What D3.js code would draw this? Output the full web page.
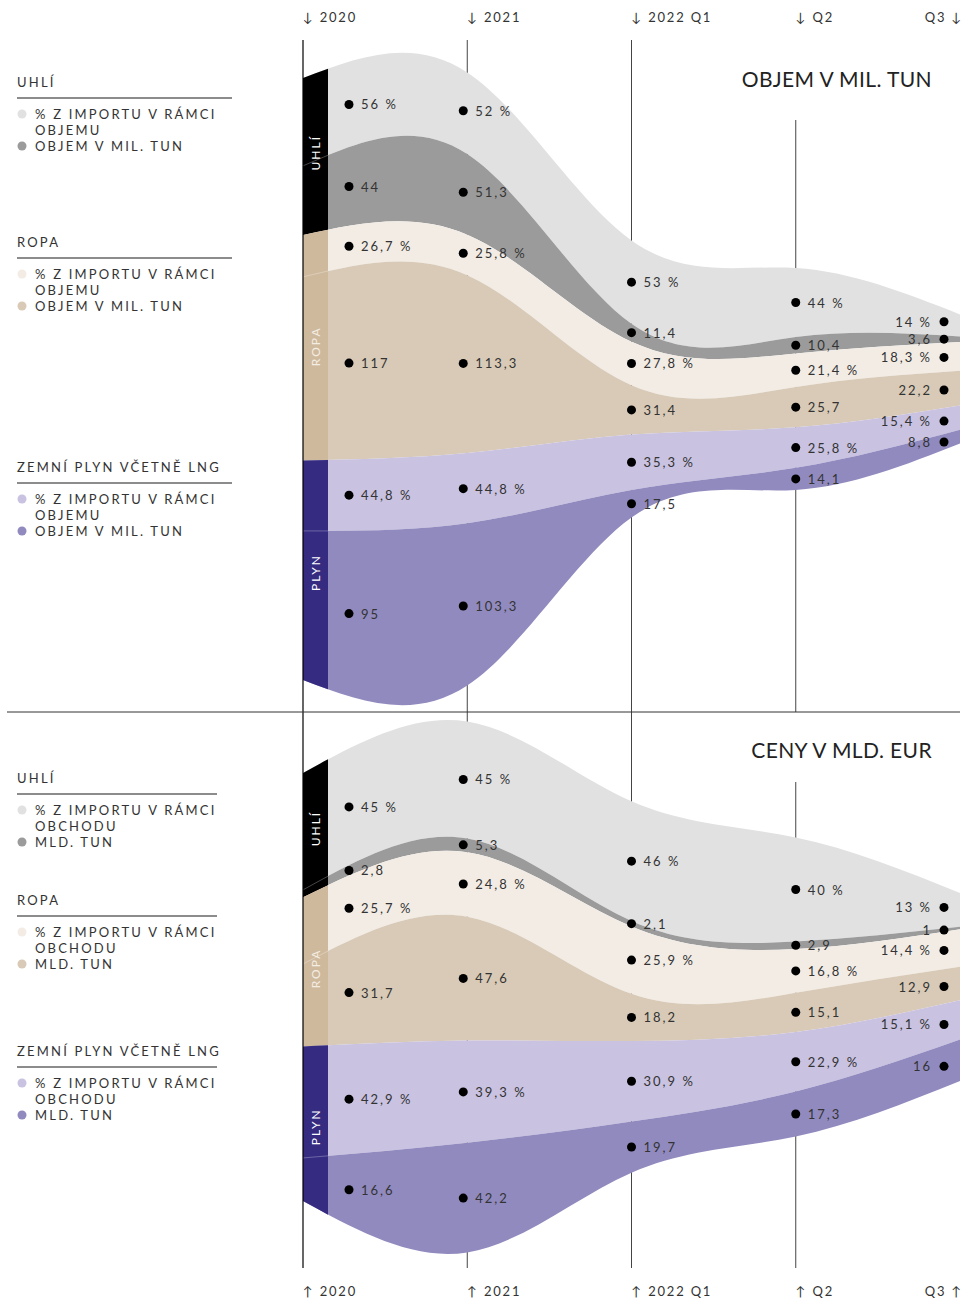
<!DOCTYPE html>
<html><head><meta charset="utf-8">
<script src="https://cdn.jsdelivr.net/npm/d3@7"></script>
<style>body{margin:0;background:#fff} svg{display:block}</style>
</head><body><svg id="c" width="965" height="1299"></svg>
<script>
// ---- data ----
const periods = ["2020","2021","2022 Q1","Q2","Q3"];
const layerKeys = ["coalPct","coalVol","oilPct","oilVol","gasPct","gasVol"];
const isPct = [true,false,true,false,true,false];
// Top chart: OBJEM V MIL. TUN
const volCoalPct = [56,52,53,44,14];
const volCoalVol = [44,51.3,11.4,10.4,3.6];
const volOilPct  = [26.7,25.8,27.8,21.4,18.3];
const volOilVol  = [117,113.3,31.4,25.7,22.2];
const volGasPct  = [44.8,44.8,35.3,25.8,15.4];
const volGasVol  = [95,103.3,17.5,14.1,8.8];
// Bottom chart: CENY V MLD. EUR
const priceCoalPct = [45,45,46,40,13];
const priceCoalVol = [2.8,5.3,2.1,2.9,1];
const priceOilPct  = [25.7,24.8,25.9,16.8,14.4];
const priceOilVol  = [31.7,47.6,18.2,15.1,12.9];
const priceGasPct  = [42.9,39.3,30.9,22.9,15.1];
const priceGasVol  = [16.6,42.2,19.7,17.3,16];
const bandNames = ["UHLÍ","ROPA","PLYN"];
const legendGroups = ["UHLÍ","ROPA","ZEMNÍ PLYN VČETNĚ LNG"];
const legendTopPct = ["% Z IMPORTU V RÁMCI","OBJEMU"];
const legendTopVol = ["OBJEM V MIL. TUN"];
const legendBotPct = ["% Z IMPORTU V RÁMCI","OBCHODU"];
const legendBotVol = ["MLD. TUN"];
const titles = ["OBJEM V MIL. TUN","CENY V MLD. EUR"];

// ---- styles ----
const layerColors = ["#e1e1e1","#9b9b9b","#f2ece5","#d8cab6","#c9c2e1","#918abf"];
const bandColors = ["#000000","#cfb99d","#352c82"];
const bandText = ["#ffffff","#f4ede3","#ffffff"];
const FONT = "Lato, 'Noto Sans', sans-serif";
const TXT = "#333";

const svg = d3.select("#c");
const X0 = 303, X1 = 960;
const x = d3.scalePoint().domain(periods).range([X0, X1]);

const charts = [
  {series:[volCoalPct,volCoalVol,volOilPct,volOilVol,volGasPct,volGasVol],
   title:titles[0], titleY:78, center:379, k:1.57, top:40, bottom:712, q2Top:120,
   legendY:[82,242,467], legendLine:232, pctText:legendTopPct, volText:legendTopVol},
  {series:[priceCoalPct,priceCoalVol,priceOilPct,priceOilVol,priceGasPct,priceGasVol],
   title:titles[1], titleY:749, center:987, k:2.6, top:712, bottom:1268, q2Top:782,
   legendY:[778,900,1051], legendLine:217, pctText:legendBotPct, volText:legendBotVol}
];

const defs = svg.append("defs");
const fmt = v => String(v).replace(".", ",");

function yAt(node, tx){
  let lo = 0, hi = node.getTotalLength(), p = null;
  for (let it=0; it<40; it++){
    const mid = (lo+hi)/2; p = node.getPointAtLength(mid);
    if (p.x < tx) lo = mid; else hi = mid;
  }
  return p.y;
}

// column lines (behind)
const linesG = svg.append("g");
charts.forEach(c=>{
  periods.slice(1,4).forEach(p=>{
    linesG.append("line").attr("x1",x(p)).attr("x2",x(p))
      .attr("y1", p==="Q2" ? c.q2Top : c.top).attr("y2", c.bottom)
      .attr("stroke","#444").attr("stroke-width",1);
  });
});

charts.forEach((c, ci)=>{
  const rows = periods.map((p,i)=>{
    const r = {period:p};
    layerKeys.forEach((k,j)=> r[k] = c.series[j][i]);
    return r;
  });
  const stacked = d3.stack().keys(layerKeys).offset(d3.stackOffsetSilhouette)(rows);
  const D = 300;
  const y = d3.scaleLinear().domain([-D, D]).range([c.center - c.k*D, c.center + c.k*D]);
  const g = svg.append("g");

  const area = d3.area().x(d=>x(d.data.period)).y0(d=>y(d[0])).y1(d=>y(d[1])).curve(d3.curveNatural);
  g.selectAll("path.layer").data(stacked).join("path").attr("class","layer")
    .attr("d", area).attr("fill",(d,j)=>layerColors[j]);

  // boundary paths (hidden) for label positions
  const bounds = [stacked[0].map(d=>d[0])].concat(stacked.map(s=>s.map(d=>d[1])));
  const line = d3.line().x((d,i)=>x(periods[i])).y(d=>y(d)).curve(d3.curveNatural);
  const bNodes = bounds.map(b=> g.append("path").attr("d", line(b)).attr("fill","none").attr("stroke","none").node());

  // left band
  const clipId = "clip"+ci;
  defs.append("clipPath").attr("id",clipId).append("rect")
    .attr("x",X0).attr("y",c.top).attr("width",25).attr("height",c.bottom-c.top);
  const bandG = g.append("g").attr("clip-path",`url(#${clipId})`);
  [0,1,2].forEach(gi=>{
    const a = d3.area().x((d,i)=>x(periods[i])).y0((d,i)=>y(stacked[2*gi][i][0])).y1((d,i)=>y(stacked[2*gi+1][i][1])).curve(d3.curveNatural);
    bandG.append("path").attr("d", a(periods)).attr("fill", bandColors[gi]);
    bandG.append("path").attr("d", line(bounds[2*gi+1])).attr("fill","none")
      .attr("stroke","rgba(255,255,255,0.35)").attr("stroke-width",0.8);
    const bx = X0 + 12.5;
    const my = (yAt(bNodes[2*gi], bx) + yAt(bNodes[2*gi+2], bx))/2;
    g.append("text").attr("transform",`translate(${bx+4},${my}) rotate(-90)`)
      .attr("text-anchor","middle").attr("font-family",FONT).attr("font-size",12)
      .attr("letter-spacing",2).attr("fill",bandText[gi]).text(bandNames[gi]);
  });

  // dots + labels
  const lab = g.append("g");
  periods.forEach((p,i)=>{
    const dx = Math.min(Math.max(x(p) - (i===1 ? 4 : 0), X0+46), X1-16);
    stacked.forEach((s,j)=>{
      const my = (yAt(bNodes[j], dx) + yAt(bNodes[j+1], dx))/2;
      lab.append("circle").attr("cx",dx).attr("cy",my).attr("r",4.5).attr("fill","#000");
      const last = i===periods.length-1;
      lab.append("text").attr("x", last ? dx-12 : dx+12).attr("y", my)
        .attr("text-anchor", last ? "end" : "start").attr("dominant-baseline","central")
        .attr("font-family",FONT).attr("font-size",13).attr("letter-spacing",2)
        .attr("fill",TXT).text(fmt(c.series[j][i]) + (isPct[j] ? " %" : ""));
    });
  });

  // title
  svg.append("text").attr("x",932).attr("y",c.titleY).attr("text-anchor","end")
    .attr("dominant-baseline","central").attr("font-family",FONT).attr("font-size",21)
    .attr("letter-spacing",0.4).attr("fill","#222").text(c.title);

  // legend
  const lg = svg.append("g");
  legendGroups.forEach((name,gi)=>{
    const ly = c.legendY[gi];
    lg.append("text").attr("x",17).attr("y",ly).attr("dominant-baseline","central")
      .attr("font-family",FONT).attr("font-size",13).attr("letter-spacing",2.2).attr("fill",TXT).text(name);
    lg.append("line").attr("x1",17).attr("x2",c.legendLine).attr("y1",ly+16).attr("y2",ly+16)
      .attr("stroke","#666").attr("stroke-width",1.5);
    const items = [{t:c.pctText, col:layerColors[2*gi]}, {t:c.volText, col:layerColors[2*gi+1]}];
    let yy = ly+32;
    items.forEach(it=>{
      lg.append("circle").attr("cx",22).attr("cy",yy).attr("r",4.5).attr("fill",it.col);
      it.t.forEach(tt=>{
        lg.append("text").attr("x",35).attr("y",yy).attr("dominant-baseline","central")
          .attr("font-family",FONT).attr("font-size",13).attr("letter-spacing",2.2).attr("fill",TXT).text(tt);
        yy += 16;
      });
    });
  });
});

// axis line at left and separator
svg.append("line").attr("x1",X0).attr("x2",X0).attr("y1",40).attr("y2",1268).attr("stroke","#000").attr("stroke-width",1.2);
svg.append("line").attr("x1",7).attr("x2",X1).attr("y1",712).attr("y2",712).attr("stroke","#333").attr("stroke-width",1);

// period headers
[{y:17, arrow:"↓"},{y:1291, arrow:"↑"}].forEach(h=>{
  periods.forEach((p,i)=>{
    const last = i===periods.length-1;
    svg.append("text").attr("x", last ? 963 : x(p)).attr("y",h.y)
      .attr("text-anchor", last ? "end" : "start").attr("dominant-baseline","central")
      .attr("font-family",FONT).attr("font-size",13).attr("letter-spacing",1.8).attr("fill",TXT)
      .text(last ? p + " " + h.arrow : h.arrow + "  " + p);
  });
});
</script></body></html>
